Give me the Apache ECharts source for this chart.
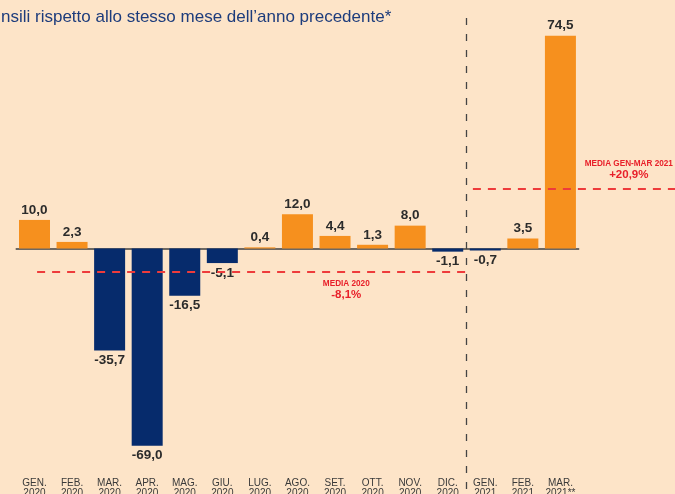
<!DOCTYPE html>
<html>
<head>
<meta charset="utf-8">
<script src="https://cdn.jsdelivr.net/npm/echarts@6/dist/echarts.min.js"></script>
<style>
html,body{margin:0;padding:0;background:#fde4c8;}
#c{width:675px;height:494px;}
</style>
</head>
<body>
<div id="c"></div>
<script>
var categories = ['GEN.\n2020','FEB.\n2020','MAR.\n2020','APR.\n2020','MAG.\n2020','GIU.\n2020','LUG.\n2020','AGO.\n2020','SET.\n2020','OTT.\n2020','NOV.\n2020','DIC.\n2020','GEN.\n2021','FEB.\n2021','MAR.\n2021**'];
var values = [10.0, 2.3, -35.7, -69.0, -16.5, -5.1, 0.4, 12.0, 4.4, 1.3, 8.0, -1.1, -0.7, 3.5, 74.5];
var media2020 = -8.1;
var media2021 = 20.9;
var titleText = 'nsili rispetto allo stesso mese dell\u2019anno precedente*';

var FONT = '"Liberation Sans", Arial, Helvetica, sans-serif';
function fmt(v){ return v.toFixed(1).replace('.', ','); }
var allData = values.map(function(v, i){ return [i, v]; });
var posData = allData.filter(function(d){ return d[1] >= 0; });
var negData = allData.filter(function(d){ return d[1] < 0; });
var n = categories.length;

var valueLabel = {
  show: true, distance: 3,
  formatter: function(p){ return fmt(p.value[1]); },
  fontFamily: FONT, fontSize: 13.5, fontWeight: 'bold', color: '#2b2b2b'
};

var chart = echarts.init(document.getElementById('c'), null, {renderer:'canvas'});
chart.setOption({
  backgroundColor: '#fde4c8',
  animation: false,
  title: {
    text: titleText, left: 1, top: 9, padding: 0,
    textStyle: {fontFamily: FONT, fontSize: 17, fontWeight: 'normal', color: '#1d3c7c'}
  },
  grid: {left: 15.7, right: 0, top: 0, bottom: 0, containLabel: false, outerBoundsMode: 'none'},
  xAxis: {
    type: 'value', min: -0.5, max: 17.05,
    axisLine: {show: false}, axisTick: {show: false}, splitLine: {show: false},
    axisLabel: {
      show: true, inside: true, margin: -4.5,
      customValues: categories.map(function(c, i){ return i; }),
      formatter: function(v){ return categories[Math.round(v)] || ''; },
      fontFamily: FONT, fontSize: 10, lineHeight: 10, color: '#3a3a3a'
    }
  },
  yAxis: {type: 'value', min: -85.93, max: 86.98, show: false},
  series: [
    {
      type: 'line', data: [], z: 1,
      markLine: {
        silent: true, z: 1, symbol: ['none','none'], label: {show: false},
        lineStyle: {color: '#6e6862', width: 2, type: 'solid'},
        data: [[{coord: [-0.5, 0]}, {coord: [n - 0.5, 0]}]]
      }
    },
    {
      name: 'pos', type: 'bar', data: posData, barWidth: 31, barGap: '-100%', z: 2,
      itemStyle: {color: '#f6901e'},
      label: Object.assign({position: 'top'}, valueLabel)
    },
    {
      name: 'neg', type: 'bar', data: negData, barWidth: 31, barGap: '-100%', z: 2,
      itemStyle: {color: '#062b6c'},
      label: Object.assign({position: 'bottom'}, valueLabel),
      markLine: {
        silent: true, symbol: ['none','none'], label: {show: false}, z: 5,
        data: [
          [{coord: [0.07, media2020], lineStyle: {color: '#ee3b3b', width: 2, type: [8, 7]}}, {coord: [11.5, media2020]}],
          [{coord: [11.67, media2021], lineStyle: {color: '#ee3b3b', width: 2, type: [8, 7]}}, {coord: [17.05, media2021]}],
          [{coord: [11.5, 80.7], lineStyle: {color: '#444444', width: 1.3, type: [7, 9]}}, {coord: [11.5, -85.93]}]
        ]
      },
      markPoint: {
        silent: true, symbol: 'circle', symbolSize: 0,
        label: {
          show: true, position: 'inside', color: '#e8202a', fontFamily: FONT, fontWeight: 'bold',
          rich: {
            a: {fontSize: 8.2, fontWeight: 'bold', fontFamily: FONT, color: '#e8202a', lineHeight: 10},
            b: {fontSize: 11.5, fontWeight: 'bold', fontFamily: FONT, color: '#e8202a', lineHeight: 13}
          }
        },
        data: [
          {coord: [8.3, media2020], label: {offset: [0, 18.4], formatter: '{a|MEDIA 2020}\n{b|' + fmt(media2020) + '%}'}},
          {coord: [15.82, media2021], label: {offset: [0, -18.7], formatter: '{a|MEDIA GEN-MAR 2021}\n{b|+' + fmt(media2021) + '%}'}}
        ]
      }
    }
  ]
});
</script>
</body>
</html>
